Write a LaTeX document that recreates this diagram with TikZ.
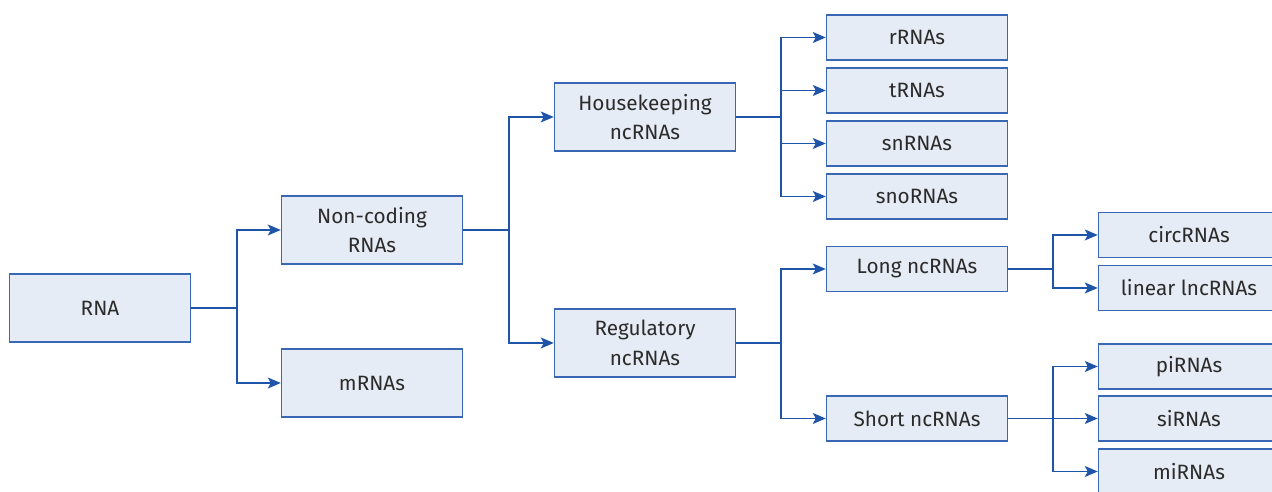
\documentclass[tikz,border=0pt]{standalone}
\usepackage{fontspec}
\setmainfont{Fira Sans}
\definecolor{RNAline}{HTML}{3A67B4}
\definecolor{RNAfill}{HTML}{E6ECF5}
\definecolor{RNAarrow}{HTML}{1F55A8}
\definecolor{RNAtext}{HTML}{2B2B2B}
\usetikzlibrary{arrows.meta}

\begin{document}
\begin{tikzpicture}[x=0.02cm, y=-0.02cm,
  box/.style={draw=RNAline, fill=RNAfill, line width=0.85pt, minimum width=3.62cm,
    inner sep=0pt, align=center, text=RNAtext, font=\fontsize{11.8}{17}\selectfont},
  bigbox/.style={box, minimum height=1.36cm},
  smallbox/.style={box, minimum height=0.9cm},
  link/.style={draw=RNAarrow, line width=0.8pt},
  arr/.style={link, -{Stealth[length=2.6mm, width=2.2mm, inset=0.6mm]}}]
\useasboundingbox (0,0) rectangle (1272,492);
\clip (0,0) rectangle (1272,492);
% Level 1 and 2
\node[bigbox] (rna) at (100,308) {RNA};
\node[bigbox] (noncoding) at (372,230) {Non-coding\\RNAs};
\node[bigbox] (mrna) at (372,383) {mRNAs};
% Level 3
\node[bigbox] (housekeeping) at (645,117) {Housekeeping\\ncRNAs};
\node[bigbox] (regulatory) at (645,343) {Regulatory\\ncRNAs};
% Level 4
\node[smallbox] (rrna) at (917,37.5) {rRNAs};
\node[smallbox] (trna) at (917,90.5) {tRNAs};
\node[smallbox] (snrna) at (917,143.5) {snRNAs};
\node[smallbox] (snorna) at (917,196.5) {snoRNAs};
\node[smallbox] (long) at (917,269) {Long ncRNAs};
\node[smallbox] (short) at (917,418.5) {Short ncRNAs};
% Level 5
\node[smallbox] (circ) at (1189,235) {circRNAs};
\node[smallbox] (linear) at (1189,288) {linear lncRNAs};
\node[smallbox] (pirna) at (1189,366.5) {piRNAs};
\node[smallbox] (sirna) at (1189,418.5) {siRNAs};
\node[smallbox] (mirna) at (1189,471.5) {miRNAs};
% Junctions
\coordinate (jrna) at (237,308);
\coordinate (jnc) at (509,230);
\coordinate (jhk) at (781,117);
\coordinate (jreg) at (781,343);
\coordinate (jlong) at (1053,269);
\coordinate (jshort) at (1053,418.5);
% Connectors
\draw[link] (rna) -- (jrna);
\draw[arr] (jrna) |- (noncoding);
\draw[arr] (jrna) |- (mrna);
\draw[link] (noncoding) -- (jnc);
\draw[arr] (jnc) |- (housekeeping);
\draw[arr] (jnc) |- (regulatory);
\draw[link] (housekeeping) -- (jhk);
\foreach \t in {rrna, trna, snrna, snorna}
  \draw[arr] (jhk) |- (\t);
\draw[link] (regulatory) -- (jreg);
\draw[arr] (jreg) |- (long);
\draw[arr] (jreg) |- (short);
\draw[link] (long) -- (jlong);
\draw[arr] (jlong) |- (circ);
\draw[arr] (jlong) |- (linear);
\draw[link] (short) -- (jshort);
\foreach \t in {pirna, sirna, mirna}
  \draw[arr] (jshort) |- (\t);
\end{tikzpicture}
\end{document}
